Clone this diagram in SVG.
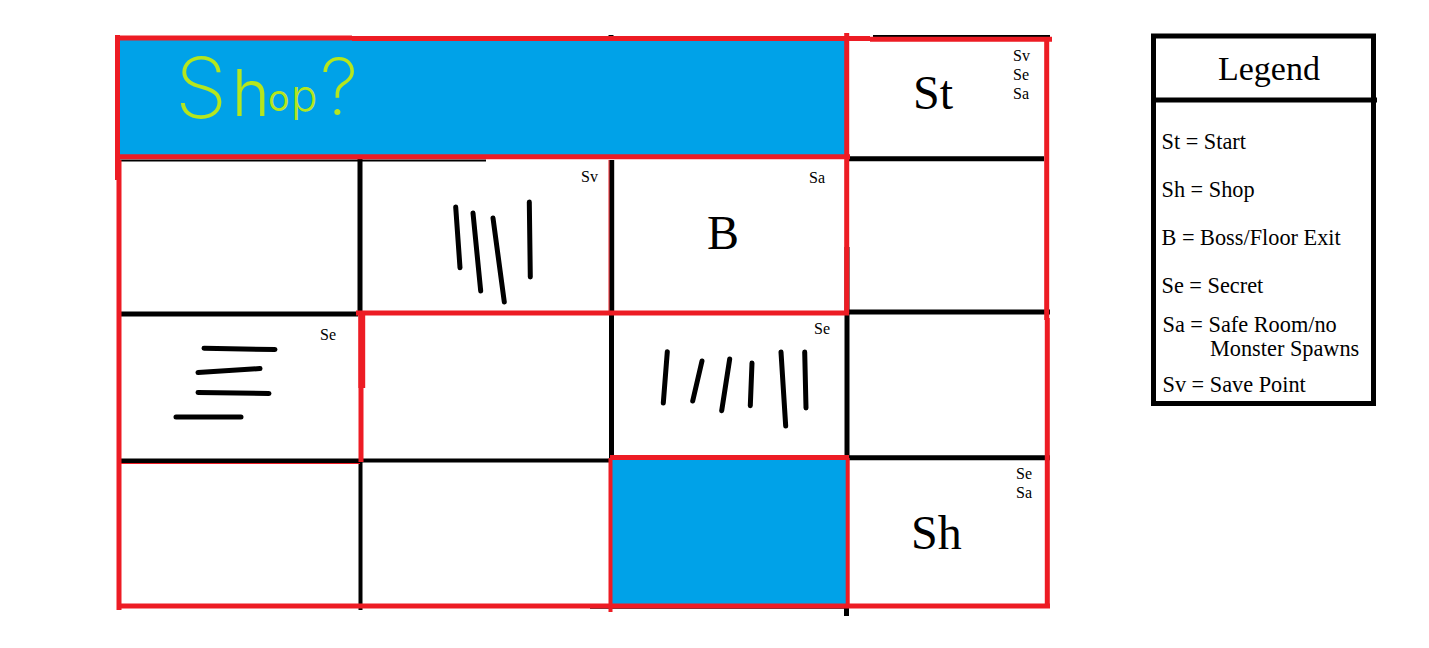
<svg xmlns="http://www.w3.org/2000/svg" width="1429" height="648" viewBox="0 0 1429 648">
<style>
.k{stroke:#000;fill:none}
.r{stroke:#ed1c24;fill:none}
.h{stroke:#000;stroke-width:5;stroke-linecap:round;fill:none}
text{font-family:"Liberation Serif","Times New Roman",serif;fill:#000}
.s{font-size:16px}
.b{font-size:48px}
.l{font-size:22.3px}
text.y{font-family:Inter,"Noto Sans",sans-serif;fill:#b5e61d;font-weight:200}
</style>
<rect width="1429" height="648" fill="#fff"/>
<g id="shop-room">
<rect x="118" y="40" width="730" height="115" fill="#00a2e8"/>
<text class="y"><tspan x="175" y="118" font-size="84" style="font-weight:200">S</tspan><tspan x="232" y="116" font-size="64" style="font-weight:300">h</tspan><tspan x="268" y="111" font-size="36" style="font-weight:400">o</tspan><tspan x="291" y="111" font-size="44" style="font-weight:300">p</tspan><tspan x="320" y="115" font-size="78" style="font-weight:200">?</tspan></text>
</g>
<g id="blue-room"><rect x="610" y="458" width="238" height="148" fill="#00a2e8"/></g>
<g id="connectors">
<path class="k" stroke-width="2" d="M873 36H1050M119 160.500H486"/>
<path class="k" stroke-width="1.500" d="M590 608H848"/>
<path class="k" stroke-width="5" d="M848 158.700H1044M360 155V313M848 312H1050M120 314H358M120 461H360M848 457.700H1050M611.700 160V313M611.500 313V458M847 247V313M847 313V458M846.500 606V616M611 35V40"/>
<path class="k" stroke-width="4" d="M360 460.500H610M360.500 462V610"/>
<path class="r" stroke-width="1" d="M120 463.500H360M609 160V313"/>
<path class="r" stroke-width="5" d="M115 38H352M352 38.500H870M870 39.300H1052M846.700 33V313M1046.700 38V320M1047.300 318V607M118 156.700H850M117.500 35V180M119 160V610M356 313H849M118 606H612M610 457.500H849M610 606H1050M361 388V462"/>
<path class="r" stroke-width="7" d="M361.700 312V388"/>
<path class="r" stroke-width="4" d="M610.500 458V612M847.700 458V606"/>
</g>
<g id="hatch-a"><path class="h" d="M455.700 207L460 267.700M473 213L480.700 291M493 218L504.300 302M529.300 202L530.300 277"/></g>
<g id="hatch-b"><path class="h" d="M204 348.300L275 349.500M198 372.500L260 368.500M198 392.500L269 393.500M176 417H241"/></g>
<g id="hatch-c"><path class="h" d="M667.300 351.700L663.300 403M702 361L692.700 401M729.700 359L721.700 410.700M752 363L750.300 405.700M781 352L785.700 426M804.700 352L806 408"/></g>
<g id="room-start"><text class="b" x="913" y="109">St</text><text class="s" x="1013" y="61">Sv</text><text class="s" x="1013" y="80">Se</text><text class="s" x="1013" y="99">Sa</text></g>
<g id="room-save"><text class="s" x="581" y="182">Sv</text></g>
<g id="room-boss"><text class="b" x="707" y="249">B</text><text class="s" x="809" y="183">Sa</text></g>
<g id="room-secret-a"><text class="s" x="320" y="340">Se</text></g>
<g id="room-secret-b"><text class="s" x="814" y="334">Se</text></g>
<g id="room-shop"><text class="b" x="911" y="549">Sh</text><text class="s" x="1016" y="479">Se</text><text class="s" x="1016" y="498">Sa</text></g>
<g id="legend">
<rect x="1153.500" y="36" width="220" height="367.500" fill="#fff" stroke="#000" stroke-width="5"/>
<path class="k" stroke-width="5" d="M1153 100H1377"/>
<text x="1218" y="80" font-size="34">Legend</text>
<text class="l" x="1161.500" y="148.500">St = Start</text>
<text class="l" x="1161.500" y="196.500">Sh = Shop</text>
<text class="l" x="1161.500" y="244.500">B = Boss/Floor Exit</text>
<text class="l" x="1161.500" y="292.500">Se = Secret</text>
<text class="l" x="1162.500" y="331.500">Sa = Safe Room/no</text>
<text class="l" x="1210" y="355.500">Monster Spawns</text>
<text class="l" x="1162.500" y="391.500">Sv = Save Point</text>
</g>
</svg>
